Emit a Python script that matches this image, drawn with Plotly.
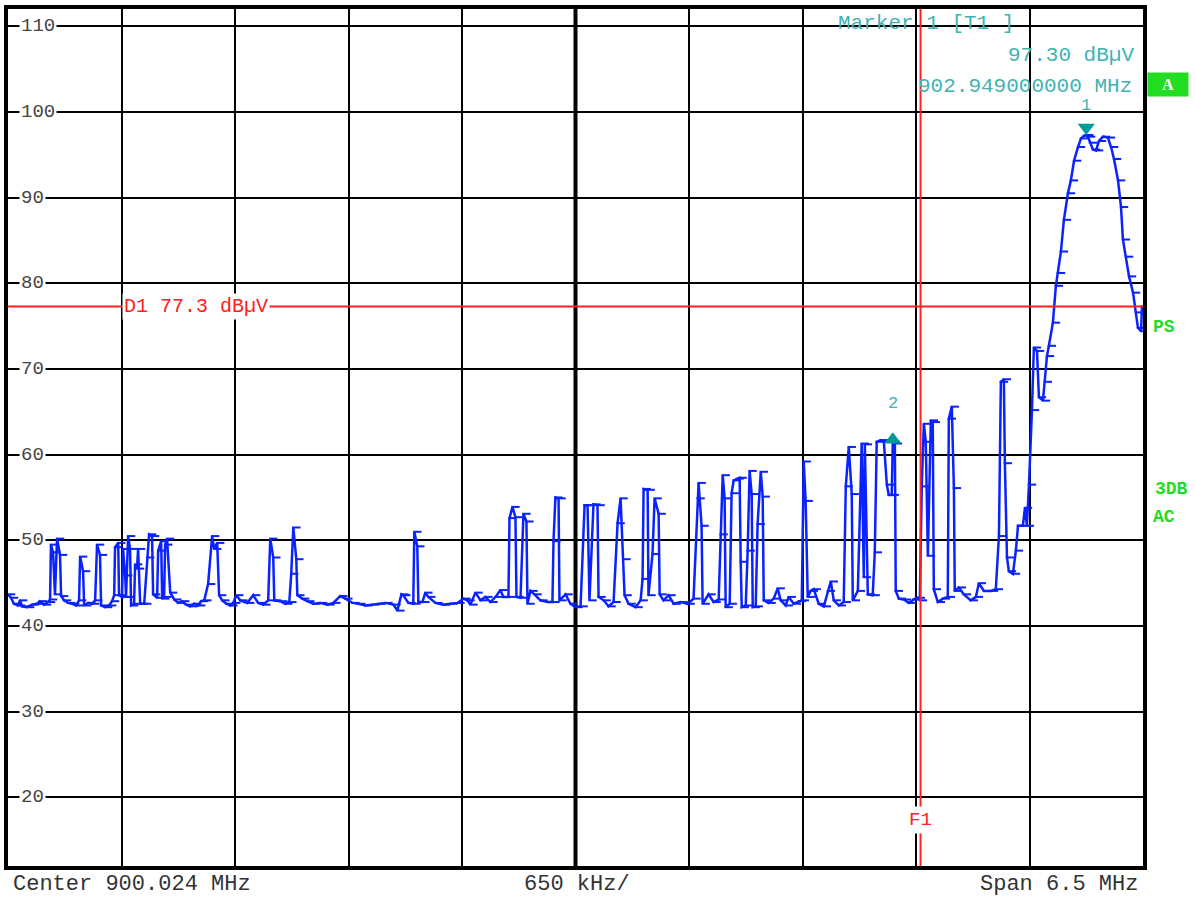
import plotly.graph_objects as go

# ---------------- data ----------------
center_mhz = 900.024
span_mhz = 6.5
ref_top = 112.0
ref_bottom = 12.0
y_labels = [110, 100, 90, 80, 70, 60, 50, 40, 30, 20]

freq_mhz = [
    896.774, 896.791, 896.808, 896.831, 896.843, 896.854, 896.883, 896.912, 896.940, 896.957,
    896.980, 897.003, 897.015, 897.020, 897.032, 897.043, 897.055, 897.072, 897.078, 897.095,
    897.118, 897.141, 897.164, 897.181, 897.187, 897.204, 897.210, 897.233, 897.256, 897.273,
    897.284, 897.301, 897.307, 897.330, 897.353, 897.370, 897.382, 897.387, 897.405, 897.410,
    897.427, 897.433, 897.445, 897.450, 897.462, 897.473, 897.479, 897.496, 897.502, 897.513,
    897.519, 897.531, 897.554, 897.571, 897.582, 897.599, 897.605, 897.628, 897.634, 897.651,
    897.657, 897.668, 897.674, 897.685, 897.703, 897.726, 897.748, 897.771, 897.794, 897.817,
    897.840, 897.863, 897.880, 897.898, 897.920, 897.943, 897.955, 897.972, 897.983, 898.001,
    898.024, 898.047, 898.064, 898.081,
    898.104, 898.144, 898.178, 898.207, 898.236, 898.264, 898.276, 898.293, 898.299, 898.333,
    898.362, 898.385, 898.396, 898.408, 898.425, 898.431, 898.459, 898.488, 898.522, 898.562,
    898.603, 898.637, 898.677, 898.706, 898.746, 898.780, 898.820, 898.860, 898.895, 898.935,
    898.981, 899.004, 899.027, 899.038, 899.067, 899.095, 899.101, 899.118, 899.124, 899.147,
    899.164, 899.181, 899.222, 899.267, 899.308, 899.348, 899.382, 899.405, 899.422,
    899.451, 899.480, 899.508, 899.537, 899.566, 899.594, 899.611, 899.640, 899.646, 899.663,
    899.680, 899.686, 899.709, 899.726, 899.743, 899.749, 899.766, 899.789, 899.823, 899.864,
    899.892, 899.898, 899.909, 899.927, 899.932, 899.967, 899.995, 900.024, 900.053, 900.076,
    900.093, 900.104, 900.127, 900.150, 900.156, 900.185, 900.213, 900.242, 900.265, 900.282,
    900.299, 900.305, 900.328, 900.368, 900.397, 900.408, 900.414, 900.437, 900.442, 900.465,
    900.477, 900.500, 900.506, 900.528, 900.557, 900.586, 900.626, 900.666, 900.700,
    900.723, 900.729, 900.746, 900.752, 900.786, 900.815, 900.844, 900.855, 900.867, 900.878,
    900.884, 900.907, 900.918, 900.930, 900.947, 900.964, 900.970, 900.976, 900.999, 901.010,
    901.021, 901.033, 901.039, 901.056, 901.067, 901.085, 901.096, 901.102, 901.130, 901.159,
    901.182, 901.199, 901.228, 901.245, 901.274, 901.302, 901.320, 901.331, 901.342, 901.354,
    901.371, 901.388, 901.417, 901.446, 901.469, 901.486, 901.503, 901.532, 901.560, 901.572,
    901.589, 901.606, 901.612, 901.641, 901.663, 901.675, 901.681, 901.698, 901.726, 901.738,
    901.749, 901.772, 901.790, 901.807, 901.818, 901.835, 901.841, 901.853, 901.858, 901.876,
    901.904, 901.933, 901.961, 901.984,
    901.996, 902.007, 902.019, 902.030, 902.042, 902.059, 902.070, 902.076, 902.099, 902.128,
    902.156, 902.162, 902.179, 902.191, 902.196, 902.219, 902.248, 902.288, 902.317, 902.334,
    902.363, 902.403, 902.431, 902.449, 902.460, 902.477, 902.483, 902.495, 902.506, 902.529,
    902.546, 902.558, 902.586, 902.598, 902.609, 902.621, 902.638, 902.649, 902.667, 902.678,
    902.701, 902.712, 902.724, 902.735, 902.758, 902.775, 902.787, 902.804, 902.821, 902.844,
    902.861, 902.879, 902.902, 902.919, 902.936, 902.949, 902.959, 902.970, 902.987, 903.005,
    903.022, 903.045, 903.073, 903.091, 903.108, 903.131, 903.148, 903.159, 903.177, 903.194,
    903.217, 903.234, 903.245, 903.263, 903.268,
]

level_dbuv = [
    43.7, 43.3, 42.6, 42.4, 43.0, 42.3, 42.2, 42.5, 42.6, 42.9,
    42.5, 42.8, 43.1, 49.5, 48.6, 43.7, 50.2, 48.3, 43.5, 43.0,
    42.7, 42.6, 42.4, 43.0, 48.1, 46.4, 42.4, 42.7, 42.6, 43.0,
    49.5, 48.3, 42.4, 42.2, 42.4, 42.9, 43.6, 49.2, 49.7, 43.6,
    43.4, 49.0, 45.9, 43.4, 50.5, 49.0, 42.4, 42.6, 47.2, 46.7,
    49.0, 42.6, 42.6, 48.0, 50.7, 50.5, 43.7, 43.3, 48.8, 49.9,
    43.2, 43.4, 49.5, 50.2, 43.9, 43.1, 42.7, 42.9, 42.5, 42.3,
    42.6, 42.4, 42.9, 43.0, 44.9, 50.5, 49.0, 49.7, 43.6, 43.0,
    42.6, 42.4, 42.7, 43.6,
    43.0, 42.7, 43.6, 42.7, 42.5, 43.0, 50.2, 48.0, 43.0, 42.9,
    42.6, 42.8, 46.1, 51.5, 47.8, 43.6, 43.2, 42.9, 42.6, 42.7,
    42.5, 42.7, 43.5, 43.2, 42.7, 42.6, 42.4, 42.5, 42.6, 42.7,
    42.5, 41.8, 43.7, 43.6, 42.7, 42.6, 51.0, 49.3, 42.8, 42.8,
    43.9, 43.4, 42.7, 42.5, 42.6, 42.7, 43.2, 43.0, 42.5,
    43.9, 43.0, 43.4, 42.8, 43.4, 44.2, 43.4, 43.4, 52.6, 53.9,
    52.7, 43.4, 43.3, 53.1, 52.2, 42.6, 44.1, 43.7, 43.0, 42.8,
    42.8, 49.9, 55.0, 54.9, 43.0, 43.7, 42.6, 42.2, 42.3, 54.1,
    54.1, 43.0, 54.2, 54.1, 43.4, 43.0, 42.3, 42.8, 52.0, 54.9,
    47.8, 43.6, 42.6, 42.2, 43.0, 45.5, 56.0, 55.9, 43.6, 48.4,
    54.9, 53.1, 43.7, 43.0, 43.6, 42.6, 42.8, 42.6, 43.2,
    54.9, 56.7, 51.7, 42.6, 43.7, 42.8, 43.1, 50.7, 57.6, 54.9,
    42.2, 42.6, 55.5, 57.0, 57.2, 57.3, 47.5, 42.2, 42.4, 48.8,
    58.1, 55.4, 42.2, 42.3, 51.9, 58.0, 55.1, 43.0, 42.7, 43.2,
    44.4, 43.0, 42.4, 43.4, 42.6, 42.9, 43.0, 59.2, 54.6, 43.4,
    44.1, 44.3, 42.6, 42.3, 44.1, 45.2, 43.0, 42.4, 42.8, 56.3,
    60.9, 55.4, 43.0, 44.1, 61.3, 45.7, 61.2, 43.7, 43.6, 48.6,
    61.5, 61.7, 61.5, 56.5, 55.3, 55.3, 61.5, 61.3, 44.1, 43.2,
    43.1, 42.7, 43.1, 43.3,
    43.0, 56.3, 63.6, 61.5, 48.2, 64.0, 63.8, 44.3, 42.8, 43.2,
    43.4, 64.2, 65.6, 56.1, 44.1, 44.5, 43.7, 43.0, 43.4, 45.0,
    44.1, 44.1, 44.3, 50.5, 68.5, 68.8, 59.0, 48.0, 46.4, 46.1,
    48.8, 51.7, 51.7, 53.8, 51.7, 56.5, 65.2, 72.5, 72.1, 66.7,
    66.3, 68.5, 71.5, 72.7, 75.4, 79.7, 81.2, 83.7, 87.4, 90.5,
    92.0, 94.3, 95.9, 96.9, 97.2, 97.3, 97.1, 96.4, 95.6, 95.5,
    96.6, 97.1, 97.0, 95.9, 94.5, 92.0, 88.9, 85.1, 83.1, 80.8,
    78.9, 76.6, 74.8, 74.4, 77.3,
]

marker_names = ["1", "2"]
marker_freq_mhz = [902.949, 901.841]
marker_level_dbuv = [97.30, 62.6]
display_line_d1 = 77.3
freq_line_f1 = 902.0

# ---------------- layout geometry ----------------
W, H = 1195, 899
ML, MR, MT, MB = 8, 52, 5, 33
PW = W - ML - MR
PH = H - MT - MB
px_per_db = PH / (ref_top - ref_bottom)
mhz_per_px = span_mhz / PW

def paper_x(px):
    return (px - ML) / PW

def paper_y(py):
    return (H - MB - py) / PH

x_start = center_mhz - span_mhz / 2
x_stop = center_mhz + span_mhz / 2
div = span_mhz / 10

BLUE = "#0a22ff"
TEAL_TXT = "#3fb3b3"
TEAL_MK = "#009a9a"
RED = "#ff2020"
GREEN = "#22dd22"
MONO = "Liberation Mono, Courier New, monospace"

fig = go.Figure()

# trace line
fig.add_trace(go.Scatter(
    x=freq_mhz, y=level_dbuv, mode="lines",
    line=dict(color=BLUE, width=2.5),
    hoverinfo="skip", showlegend=False,
))
# sample ticks drawn to the right of each point
tick_len_px = 6
tick_x = [f + (tick_len_px / 2) * mhz_per_px for f in freq_mhz]
fig.add_trace(go.Scatter(
    x=tick_x, y=level_dbuv, mode="markers",
    marker=dict(symbol="line-ew", size=tick_len_px, line=dict(width=2, color=BLUE)),
    hoverinfo="skip", showlegend=False,
))

# markers (apex of the triangle sits on the marker level)
msize = 15
apex_db = (msize / 2) / px_per_db
symbols = ["triangle-down", "triangle-up"]
mk_y = [marker_level_dbuv[0] + apex_db, marker_level_dbuv[1] - apex_db]
fig.add_trace(go.Scatter(
    x=marker_freq_mhz, y=mk_y, mode="markers",
    marker=dict(symbol=symbols, size=msize, color=TEAL_MK, line=dict(width=0)),
    hoverinfo="skip", showlegend=False,
))

shapes = []
shapes.append(dict(type="line", xref="x", yref="paper", x0=center_mhz, x1=center_mhz,
                   y0=0, y1=1, line=dict(color="black", width=4), layer="below"))
shapes.append(dict(type="line", xref="paper", yref="y", x0=0, x1=1,
                   y0=display_line_d1, y1=display_line_d1, line=dict(color=RED, width=2)))
shapes.append(dict(type="line", xref="x", yref="paper", x0=freq_line_f1, x1=freq_line_f1,
                   y0=0, y1=1, line=dict(color=RED, width=2)))

annotations = []
for v in y_labels:
    annotations.append(dict(x=paper_x(19), y=v, xref="paper", yref="y", text=str(v),
                            showarrow=False, xanchor="left", yanchor="middle",
                            font=dict(family=MONO, size=19, color="#444444"),
                            bgcolor="white", borderpad=1))
annotations.append(dict(x=paper_x(122), y=display_line_d1, xref="paper", yref="y",
                        text="D1 77.3 dBµV", showarrow=False, xanchor="left", yanchor="middle",
                        font=dict(family=MONO, size=20, color=RED), bgcolor="white", borderpad=1))
annotations.append(dict(x=freq_line_f1, y=paper_y(820), xref="x", yref="paper",
                        text="F1", showarrow=False, xanchor="center", yanchor="middle",
                        font=dict(family=MONO, size=19, color=RED), bgcolor="white", borderpad=2))
for name, f, lv in zip(marker_names, marker_freq_mhz, marker_level_dbuv):
    annotations.append(dict(x=f, y=lv, xref="x", yref="y", text=name, showarrow=False,
                            xanchor="center", yanchor="middle", yshift=29,
                            font=dict(family=MONO, size=17, color=TEAL_TXT)))
annotations.append(dict(x=paper_x(926), y=paper_y(20), xref="paper", yref="paper",
                        text="Marker 1 [T1 ]", showarrow=False, xanchor="center", yanchor="middle",
                        font=dict(family=MONO, size=21, color=TEAL_TXT)))
annotations.append(dict(x=paper_x(1136), y=paper_y(52), xref="paper", yref="paper",
                        text="97.30 dBµV", showarrow=False, xanchor="right", yanchor="middle",
                        font=dict(family=MONO, size=21, color=TEAL_TXT)))
annotations.append(dict(x=paper_x(1134), y=paper_y(83), xref="paper", yref="paper",
                        text="902.949000000 MHz", showarrow=False, xanchor="right", yanchor="middle",
                        font=dict(family=MONO, size=21, color=TEAL_TXT)))
annotations.append(dict(x=paper_x(11), y=paper_y(885), xref="paper", yref="paper",
                        text="Center 900.024 MHz", showarrow=False, xanchor="left", yanchor="middle",
                        font=dict(family=MONO, size=22, color="#333333")))
annotations.append(dict(x=paper_x(577), y=paper_y(885), xref="paper", yref="paper",
                        text="650 kHz/", showarrow=False, xanchor="center", yanchor="middle",
                        font=dict(family=MONO, size=22, color="#333333")))
annotations.append(dict(x=paper_x(1140), y=paper_y(885), xref="paper", yref="paper",
                        text="Span 6.5 MHz", showarrow=False, xanchor="right", yanchor="middle",
                        font=dict(family=MONO, size=22, color="#333333")))
annotations.append(dict(x=paper_x(1168), y=paper_y(81), xref="paper", yref="paper",
                        text="<b>A</b>", showarrow=False, xanchor="center", yanchor="middle",
                        width=38, height=21, bgcolor=GREEN,
                        font=dict(family="Liberation Serif, serif", size=16, color="white")))
for txt, cx, cy in [("PS", 1164, 324), ("3DB", 1171, 487), ("AC", 1164, 515)]:
    annotations.append(dict(x=paper_x(cx), y=paper_y(cy), xref="paper", yref="paper",
                            text="<b>" + txt + "</b>", showarrow=False, xanchor="center",
                            yanchor="middle",
                            font=dict(family="Liberation Mono, monospace", size=18, color=GREEN)))

fig.update_layout(
    width=W, height=H,
    margin=dict(l=ML, r=MR, t=MT, b=MB),
    paper_bgcolor="white", plot_bgcolor="white",
    showlegend=False,
    shapes=shapes, annotations=annotations,
    xaxis=dict(range=[x_start, x_stop], tick0=x_start, dtick=div, showgrid=True,
               gridcolor="black", gridwidth=2, showticklabels=False, ticks="",
               zeroline=False, showline=True, mirror=True, linecolor="black", linewidth=4),
    yaxis=dict(range=[ref_bottom, ref_top], tick0=20, dtick=10, showgrid=True,
               gridcolor="black", gridwidth=2, showticklabels=False, ticks="",
               zeroline=False, showline=True, mirror=True, linecolor="black", linewidth=4),
)

fig.write_html("out.html")
